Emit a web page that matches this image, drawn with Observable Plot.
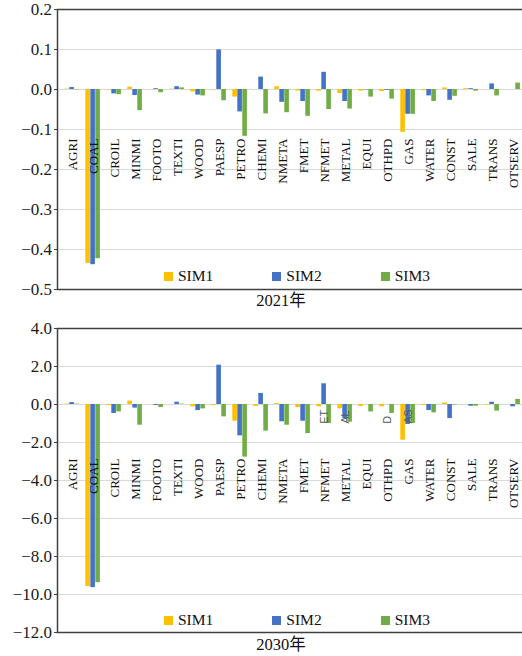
<!DOCTYPE html>
<html>
<head>
<meta charset="utf-8">
<script src="https://cdn.jsdelivr.net/npm/d3@7"></script>
<script src="https://cdn.jsdelivr.net/npm/@observablehq/plot@0.6"></script>
<style>
  html, body { margin: 0; padding: 0; background: white; }
  #wrap { position: relative; width: 522px; height: 656px; overflow: hidden; background: white; }
  .panel { position: absolute; left: 0; }
  .title { position: absolute; left: 231px; width: 100px; text-align: center;
           font-family: 'Liberation Serif', 'Times New Roman', 'Noto Sans CJK SC', serif; font-size: 16.5px; color: #111; line-height: 18px; }
  .legend { position: absolute; left: 164px; display: flex; gap: 59px; align-items: center;
            font-family: 'Liberation Serif', 'Times New Roman', serif; font-size: 15.5px; color: #111; line-height: 18px; }
  .legend span.item { display: flex; align-items: center; gap: 5px; }
  .legend i { display: inline-block; width: 9px; height: 9px; }
</style>
</head>
<body>
<div id="wrap"></div>
<script>
const sectors = ["AGRI","COAL","CROIL","MINMI","FOOTO","TEXTI","WOOD","PAESP","PETRO","CHEMI","NMETA","FMET","NFMET","METAL","EQUI","OTHPD","GAS","WATER","CONST","SALE","TRANS","OTSERV"];
const seriesNames = ["SIM1","SIM2","SIM3"];
const seriesColors = ["#FFC000","#4472C4","#70AD47"];

const sim1_2021 = [0.001,-0.435,-0.001,0.006,0,0.001,-0.006,-0.001,-0.019,0,0.007,-0.004,-0.004,-0.010,-0.004,-0.005,-0.107,-0.003,0.004,0.002,0,0];
const sim2_2021 = [0.005,-0.438,-0.011,-0.015,0.002,0.007,-0.014,0.099,-0.056,0.031,-0.032,-0.030,0.043,-0.030,-0.001,-0.002,-0.062,-0.016,-0.027,0.002,0.014,0];
const sim3_2021 = [-0.001,-0.423,-0.013,-0.053,-0.008,0.004,-0.016,-0.028,-0.117,-0.061,-0.058,-0.067,-0.050,-0.049,-0.019,-0.024,-0.062,-0.030,-0.017,-0.004,-0.016,0.016];

const sim1_2030 = [0.02,-9.58,-0.05,0.18,0,0,-0.12,-0.05,-0.88,-0.10,0.05,-0.16,-0.12,-0.23,-0.10,-0.12,-1.88,-0.05,0.08,0,-0.03,0];
const sim2_2030 = [0.10,-9.64,-0.47,-0.19,-0.05,0.12,-0.32,2.07,-1.65,0.58,-0.91,-0.88,1.09,-0.74,0,0,-1.05,-0.32,-0.74,-0.09,0.12,-0.12];
const sim3_2030 = [0.02,-9.38,-0.39,-1.09,-0.16,0.02,-0.23,-0.65,-2.77,-1.40,-1.09,-1.53,-1.00,-0.93,-0.39,-0.47,-1.00,-0.44,-0.03,-0.09,-0.35,0.27];

const yTicks2021 = [0.2,0.1,0.0,-0.1,-0.2,-0.3,-0.4,-0.5];
const yTicks2030 = [4,2,0,-2,-4,-6,-8,-10,-12];

// stray label fragments visible in the 2030 panel
const fragSectors2030 = ["NFMET","METAL","OTHPD","GAS"];
const fragTexts2030 = ["ET","AL","D","AS"];

const titles = ["2021年","2030年"];

const SERIF = "'Liberation Serif', 'Times New Roman', serif";

function panel({values, ticks, height, marginTop, marginBottom, labelDy, frags}) {
  const rows = seriesNames.flatMap((s, k) =>
    sectors.map((sec, i) => ({sector: sec, series: s, value: values[k][i]})));
  const insets = [[2.3, 14.1], [7.3, 9.1], [12.3, 4.1]];
  const marks = [
    Plot.ruleY(ticks, {stroke: "#d9d9d9", strokeWidth: 1}),
    ...seriesNames.map((s, k) => Plot.barY(rows.filter(r => r.series === s), {
      x: "sector", y: "value", fill: seriesColors[k],
      insetLeft: insets[k][0], insetRight: insets[k][1]
    })),
    Plot.text(sectors, {x: d => d, y: 0, dy: labelDy, rotate: -90, textAnchor: "end",
      fontSize: 13, fill: "#111", fontFamily: SERIF})
  ];
  if (frags) {
    marks.push(Plot.text(frags.texts, {x: (d, i) => frags.sectors[i], y: 0, dy: 19, rotate: -90,
      textAnchor: "start", fontSize: 10.5, fill: "#595959", fontFamily: "'Liberation Sans', sans-serif"}));
  }
  marks.push(
    Plot.frame({stroke: "#404040", strokeWidth: 1.5}),
    Plot.axisY({ticks, tickFormat: d3.format(".1f"), tickSize: 3, tickPadding: 2.5, label: null,
      fontSize: 17, fontFamily: SERIF, fill: "#1a1a1a", stroke: "#404040"})
  );
  return Plot.plot({
    width: 522, height, marginLeft: 57, marginRight: -6.2, marginTop, marginBottom,
    style: {fontFamily: SERIF, fontSize: "17px", color: "#1a1a1a", background: "white"},
    x: {domain: sectors, padding: 0, axis: null},
    y: {domain: [ticks[ticks.length - 1], ticks[0]], axis: null},
    marks
  });
}

const wrap = document.getElementById("wrap");

const p1 = panel({values: [sim1_2021, sim2_2021, sim3_2021], ticks: yTicks2021,
  height: 300, marginTop: 9, marginBottom: 11, labelDy: 49});
p1.classList.add("panel"); p1.style.top = "0px";
wrap.appendChild(p1);

const p2 = panel({values: [sim1_2030, sim2_2030, sim3_2030], ticks: yTicks2030,
  height: 344, marginTop: 18, marginBottom: 22, labelDy: 54,
  frags: {sectors: fragSectors2030, texts: fragTexts2030}});
p2.classList.add("panel"); p2.style.top = "310px";
wrap.appendChild(p2);

function addLegend(top) {
  const lg = document.createElement("div");
  lg.className = "legend";
  lg.style.top = top + "px";
  seriesNames.forEach((s, k) => {
    const it = document.createElement("span");
    it.className = "item";
    const sw = document.createElement("i");
    sw.style.background = seriesColors[k];
    const tx = document.createElement("span");
    tx.textContent = s;
    it.appendChild(sw); it.appendChild(tx);
    lg.appendChild(it);
  });
  wrap.appendChild(lg);
}
addLegend(267);
addLegend(611);

[[titles[0], 292], [titles[1], 636]].forEach(([t, top]) => {
  const d = document.createElement("div");
  d.className = "title";
  d.style.top = top + "px";
  d.textContent = t;
  wrap.appendChild(d);
});
</script>
</body>
</html>
